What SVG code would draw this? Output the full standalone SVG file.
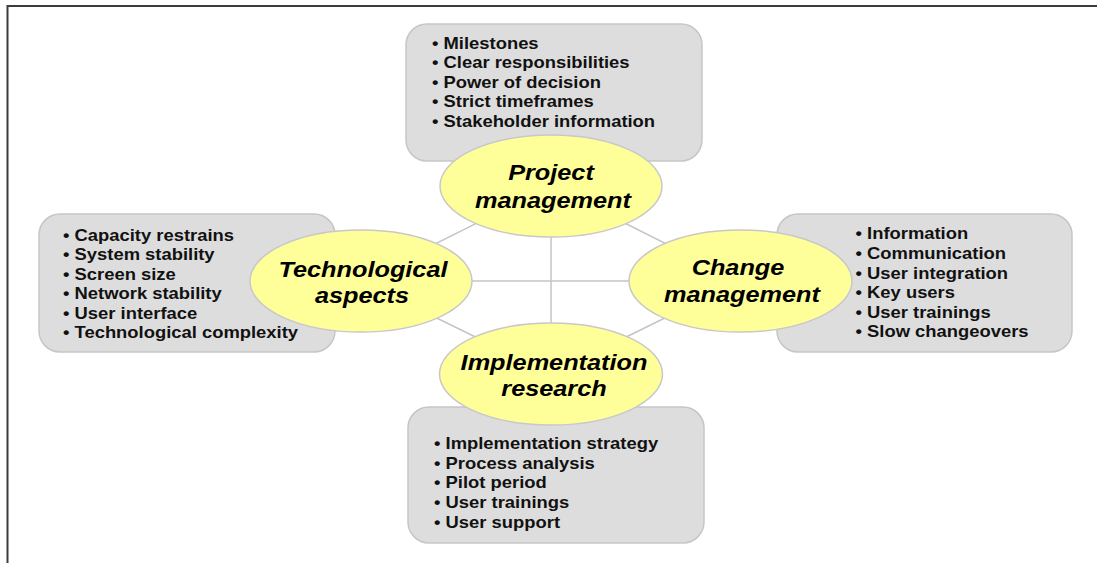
<svg xmlns="http://www.w3.org/2000/svg" width="1097" height="563" viewBox="0 0 1097 563">
  <style>
    .frame { fill: none; stroke: #3c3c3c; stroke-width: 2; }
    .link { stroke: #c4c4c4; stroke-width: 1.5; fill: none; }
    .box { fill: #dddddd; stroke: #c6c6c6; stroke-width: 1.5; }
    .hub { fill: #ffff99; stroke: #c8c8c8; stroke-width: 1.5; }
    .title { font-family: "Liberation Sans", Arial, sans-serif; font-size: 22px; font-weight: bold; font-style: italic; fill: #000; text-anchor: middle; }
    .item { font-family: "Liberation Sans", Arial, sans-serif; font-size: 16px; font-weight: bold; fill: #111; }
  </style>

  <!-- page frame -->
  <rect class="frame" x="7.5" y="6" width="1100" height="600"/>

  <!-- connectors between the four hubs (centre to centre, behind the ellipses) -->
  <g id="connectors">
    <line class="link" x1="551" y1="186" x2="361" y2="281"/>
    <line class="link" x1="551" y1="186" x2="740" y2="281"/>
    <line class="link" x1="361" y1="281" x2="551" y2="374"/>
    <line class="link" x1="740" y1="281" x2="551" y2="374"/>
    <line class="link" x1="551" y1="186" x2="551" y2="374"/>
    <line class="link" x1="361" y1="281" x2="740" y2="281"/>
  </g>

  <!-- Project management -->
  <g id="project-management">
    <rect class="box" x="406" y="24" width="296" height="137" rx="21"/>
    <g class="item">
      <text transform="translate(432 48.5) scale(1.15 1)">• Milestones</text>
      <text transform="translate(432 68) scale(1.15 1)">• Clear responsibilities</text>
      <text transform="translate(432 87.5) scale(1.15 1)">• Power of decision</text>
      <text transform="translate(432 107) scale(1.15 1)">• Strict timeframes</text>
      <text transform="translate(432 126.5) scale(1.15 1)">• Stakeholder information</text>
    </g>
    <ellipse class="hub" cx="551" cy="186" rx="111" ry="51"/>
    <text class="title" transform="translate(551 180) scale(1.15 1)">Project</text>
    <text class="title" transform="translate(553 207.5) scale(1.15 1)">management</text>
  </g>

  <!-- Technological aspects -->
  <g id="technological-aspects">
    <rect class="box" x="39" y="214" width="296" height="138" rx="21"/>
    <g class="item">
      <text transform="translate(63 240.7) scale(1.15 1)">• Capacity restrains</text>
      <text transform="translate(63 260.3) scale(1.15 1)">• System stability</text>
      <text transform="translate(63 279.8) scale(1.15 1)">• Screen size</text>
      <text transform="translate(63 299.4) scale(1.15 1)">• Network stability</text>
      <text transform="translate(63 318.9) scale(1.15 1)">• User interface</text>
      <text transform="translate(63 338.4) scale(1.15 1)">• Technological complexity</text>
    </g>
    <ellipse class="hub" cx="361" cy="281" rx="111" ry="51"/>
    <text class="title" transform="translate(363 276.7) scale(1.15 1)">Technological</text>
    <text class="title" transform="translate(362 302.5) scale(1.15 1)">aspects</text>
  </g>

  <!-- Change management -->
  <g id="change-management">
    <rect class="box" x="777" y="214" width="295" height="138" rx="21"/>
    <g class="item">
      <text transform="translate(855.5 239.3) scale(1.15 1)">• Information</text>
      <text transform="translate(855.5 258.9) scale(1.15 1)">• Communication</text>
      <text transform="translate(855.5 278.5) scale(1.15 1)">• User integration</text>
      <text transform="translate(855.5 298.1) scale(1.15 1)">• Key users</text>
      <text transform="translate(855.5 317.7) scale(1.15 1)">• User trainings</text>
      <text transform="translate(855.5 337.3) scale(1.15 1)">• Slow changeovers</text>
    </g>
    <ellipse class="hub" cx="740.5" cy="281" rx="111.5" ry="51"/>
    <text class="title" transform="translate(738 274.5) scale(1.15 1)">Change</text>
    <text class="title" transform="translate(742 301.7) scale(1.15 1)">management</text>
  </g>

  <!-- Implementation research -->
  <g id="implementation-research">
    <rect class="box" x="408" y="407" width="296" height="136" rx="21"/>
    <g class="item">
      <text transform="translate(434 449) scale(1.15 1)">• Implementation strategy</text>
      <text transform="translate(434 468.6) scale(1.15 1)">• Process analysis</text>
      <text transform="translate(434 488.3) scale(1.15 1)">• Pilot period</text>
      <text transform="translate(434 507.9) scale(1.15 1)">• User trainings</text>
      <text transform="translate(434 527.6) scale(1.15 1)">• User support</text>
    </g>
    <ellipse class="hub" cx="551" cy="374" rx="111.5" ry="51"/>
    <text class="title" transform="translate(554 370) scale(1.15 1)">Implementation</text>
    <text class="title" transform="translate(554 396) scale(1.15 1)">research</text>
  </g>
</svg>
